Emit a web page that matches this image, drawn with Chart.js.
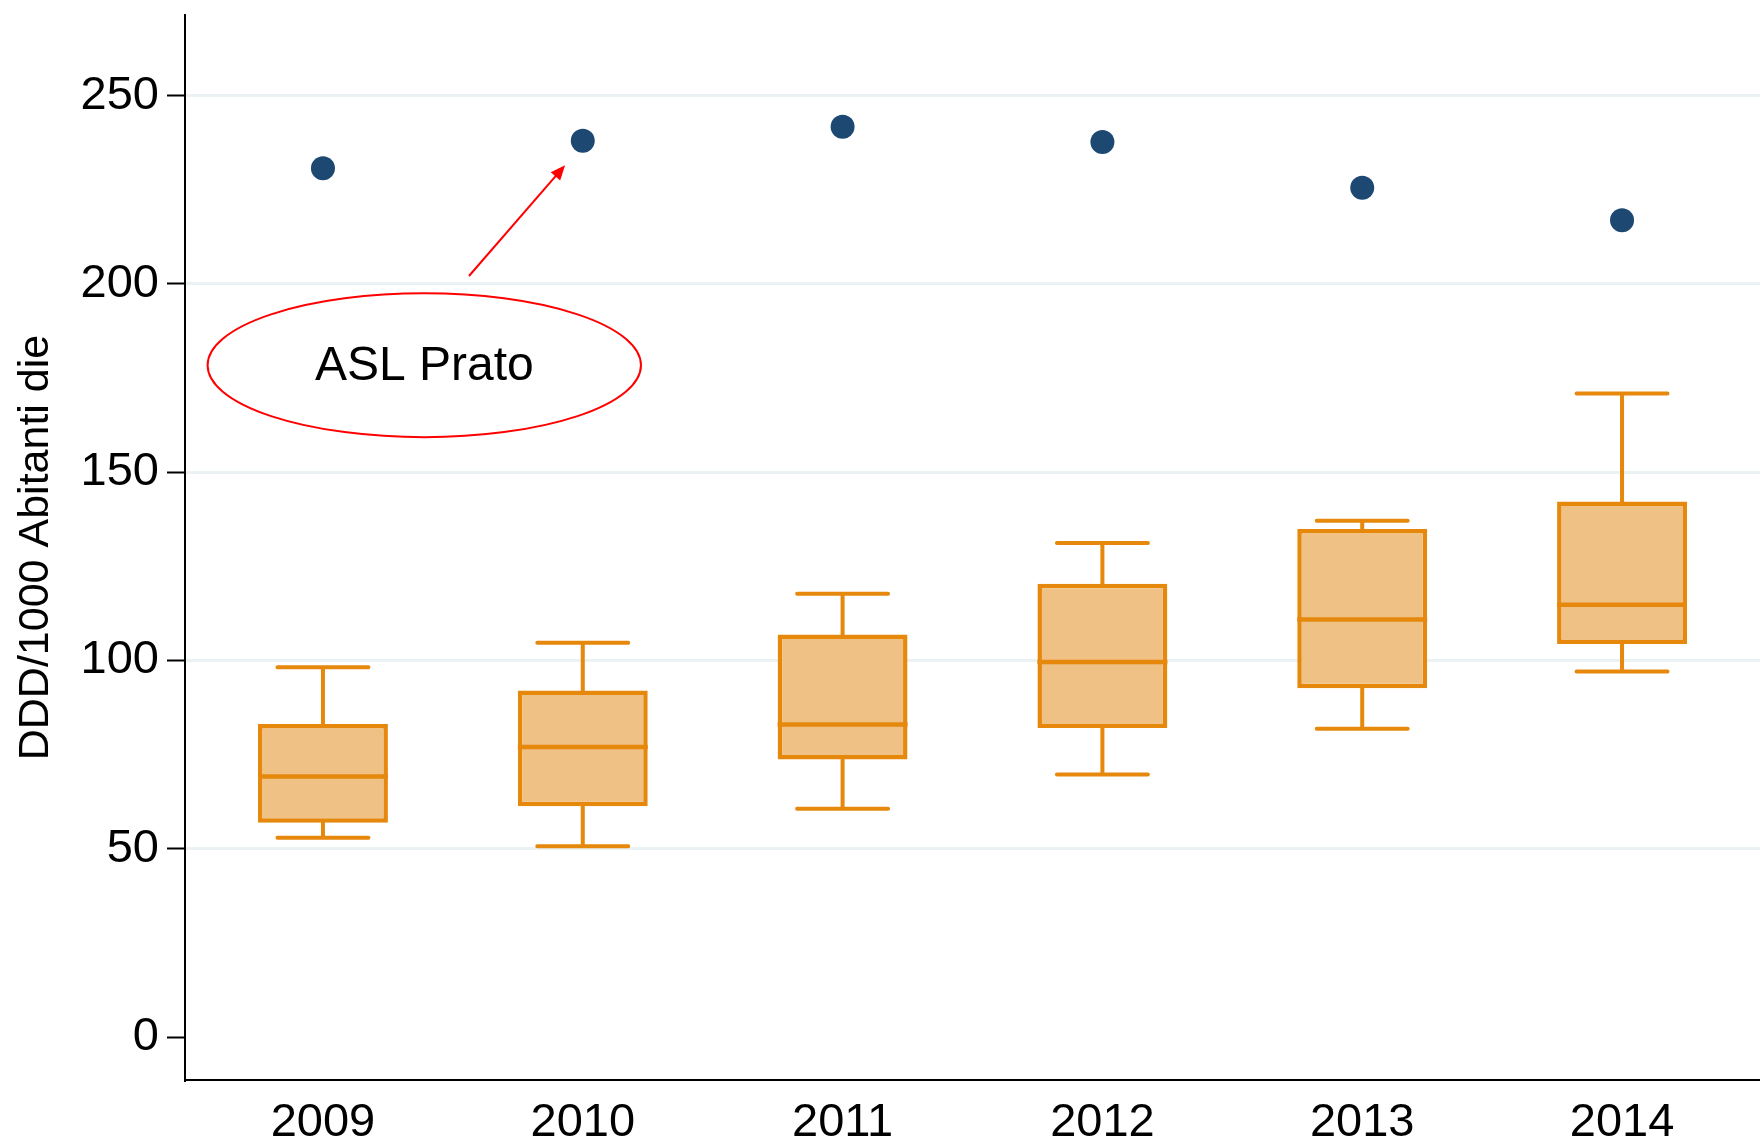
<!DOCTYPE html>
<html>
<head>
<meta charset="utf-8">
<script src="https://cdn.jsdelivr.net/npm/chart.js@4"></script>
<style>
    html, body { margin: 0; padding: 0; background: #ffffff; overflow: hidden; }
    #wrap { width: 1760px; height: 1141px; }
    canvas { display: block; }
</style>
</head>
<body>
<div id="wrap"><canvas id="boxChart" width="1760" height="1141"></canvas></div>
<script>
// values
const years = ["2009", "2010", "2011", "2012", "2013", "2014"];
const whiskerLow = [52.9, 50.7, 60.6, 69.7, 81.9, 97.1];
const q1 = [56.9, 61.3, 73.7, 82.1, 92.6, 104.4];
const median = [69.2, 77.0, 83.0, 99.6, 110.9, 114.8];
const q3 = [83.1, 92.0, 106.9, 120.4, 134.9, 142.2];
const whiskerHigh = [98.2, 104.7, 117.7, 131.2, 137.1, 170.9];
const aslPrato = [230.7, 238.0, 241.7, 237.7, 225.5, 216.9];
const yTicks = [0, 50, 100, 150, 200, 250];

const boxLine = "#e5880c";
const boxFill = "#f0c185";
const dotColor = "#1c4872";
const fontFamily = "'Liberation Sans', Arial, sans-serif";

// callout (in data units)
const callout = {
    text: "ASL Prato",
    cx: 0.39, cy: 178.4, rx: 0.834, ry: 19.1,
    from: [0.562, 202.1],
    to: [0.932, 231.5],
};

// whiskers, caps and median lines on top of the floating bars
const boxExtras = {
    id: "boxExtras",
    afterDatasetsDraw(chart) {
        const { ctx, scales: { x, y } } = chart;
        const step = x.getPixelForValue(1) - x.getPixelForValue(0);
        const half = step * 0.25;
        const capHalf = step * 0.175;
        ctx.save();
        ctx.strokeStyle = boxLine;
        years.forEach((yr, i) => {
            const cx = x.getPixelForValue(i);
            ctx.lineWidth = 4;
            ctx.lineCap = "round";
            ctx.beginPath();
            ctx.moveTo(cx, y.getPixelForValue(q3[i]));
            ctx.lineTo(cx, y.getPixelForValue(whiskerHigh[i]));
            ctx.moveTo(cx - capHalf, y.getPixelForValue(whiskerHigh[i]));
            ctx.lineTo(cx + capHalf, y.getPixelForValue(whiskerHigh[i]));
            ctx.moveTo(cx, y.getPixelForValue(q1[i]));
            ctx.lineTo(cx, y.getPixelForValue(whiskerLow[i]));
            ctx.moveTo(cx - capHalf, y.getPixelForValue(whiskerLow[i]));
            ctx.lineTo(cx + capHalf, y.getPixelForValue(whiskerLow[i]));
            ctx.stroke();
            ctx.lineWidth = 4.5;
            ctx.lineCap = "butt";
            ctx.beginPath();
            ctx.moveTo(cx - half, y.getPixelForValue(median[i]));
            ctx.lineTo(cx + half, y.getPixelForValue(median[i]));
            ctx.stroke();
        });
        ctx.restore();
    },
};

// red ellipse label with arrow
const calloutPlugin = {
    id: "callout",
    afterDraw(chart) {
        const { ctx, scales: { x, y } } = chart;
        const px = (v) => x.getPixelForValue(v);
        const py = (v) => y.getPixelForValue(v);
        const cx = px(callout.cx);
        const cy = py(callout.cy);
        const rx = px(callout.cx + callout.rx) - cx;
        const ry = cy - py(callout.cy + callout.ry);
        ctx.save();
        ctx.strokeStyle = "#ff0000";
        ctx.fillStyle = "#ff0000";
        ctx.lineWidth = 2;
        ctx.beginPath();
        ctx.ellipse(cx, cy, rx, ry, 0, 0, Math.PI * 2);
        ctx.stroke();

        const x1 = px(callout.from[0]), y1 = py(callout.from[1]);
        const x2 = px(callout.to[0]), y2 = py(callout.to[1]);
        const ang = Math.atan2(y2 - y1, x2 - x1);
        const head = 16;
        ctx.beginPath();
        ctx.moveTo(x1, y1);
        ctx.lineTo(x2 - Math.cos(ang) * head * 0.8, y2 - Math.sin(ang) * head * 0.8);
        ctx.stroke();
        ctx.beginPath();
        ctx.moveTo(x2, y2);
        ctx.lineTo(x2 - head * Math.cos(ang - 0.4), y2 - head * Math.sin(ang - 0.4));
        ctx.lineTo(x2 - head * Math.cos(ang + 0.4), y2 - head * Math.sin(ang + 0.4));
        ctx.closePath();
        ctx.fill();

        ctx.fillStyle = "#000000";
        ctx.font = "48px " + fontFamily;
        ctx.textAlign = "center";
        ctx.textBaseline = "middle";
        ctx.fillText(callout.text, cx, cy + 2);
        ctx.restore();
    },
};

const ctx = document.getElementById("boxChart").getContext("2d");

const boxChart = new Chart(ctx, {
    data: {
        datasets: [
            {
                type: "scatter",
                label: "ASL Prato",
                data: aslPrato.map((v, i) => ({ x: i, y: v })),
                pointRadius: 12,
                pointHoverRadius: 12,
                pointBackgroundColor: dotColor,
                pointBorderWidth: 0,
                order: 0,
            },
            {
                type: "bar",
                label: "Box",
                data: years.map((yr, i) => ({ x: i, y: [q1[i], q3[i]] })),
                backgroundColor: boxFill,
                borderColor: boxLine,
                borderWidth: 4.5,
                borderSkipped: false,
                barPercentage: 0.5,
                categoryPercentage: 1,
                order: 1,
            },
        ],
    },
    options: {
        responsive: false,
        animation: false,
        devicePixelRatio: 1,
        layout: {
            autoPadding: false,
            padding: { top: 15, right: 0, left: 0, bottom: 0 },
        },
        plugins: {
            legend: { display: false },
            tooltip: { enabled: false },
        },
        scales: {
            x: {
                type: "linear",
                offset: false,
                min: -0.531,
                max: 5.531,
                afterBuildTicks: (scale) => {
                    scale.ticks = years.map((yr, i) => ({ value: i }));
                },
                afterFit: (scale) => {
                    scale.height = 61;
                    scale.paddingLeft = 0;
                    scale.paddingRight = 0;
                },
                ticks: {
                    callback: (v) => years[v],
                    color: "#000000",
                    font: { family: fontFamily, size: 47 },
                    padding: 15,
                    maxRotation: 0,
                    autoSkip: false,
                },
                grid: { display: false, drawTicks: false },
                border: { display: true, color: "#000000", width: 2 },
            },
            y: {
                min: -11.4,
                max: 271.4,
                afterBuildTicks: (scale) => {
                    scale.ticks = yTicks.map((v) => ({ value: v }));
                },
                afterFit: (scale) => {
                    scale.width = 185;
                    scale.paddingTop = 0;
                    scale.paddingBottom = 0;
                },
                ticks: {
                    color: "#000000",
                    font: { family: fontFamily, size: 47 },
                    padding: 8,
                },
                grid: {
                    color: (c) => (c.tick && c.tick.value === 0 ? "rgba(0,0,0,0)" : "#eaf2f3"),
                    lineWidth: 3,
                    drawTicks: true,
                    tickLength: 18,
                    tickColor: "#000000",
                    tickWidth: 2,
                },
                border: { display: true, color: "#000000", width: 2 },
                title: {
                    display: true,
                    text: "DDD/1000 Abitanti die",
                    color: "#000000",
                    font: { family: fontFamily, size: 43 },
                    padding: { top: 10, bottom: 10 },
                },
            },
        },
    },
    plugins: [boxExtras, calloutPlugin],
});
</script>
</body>
</html>
